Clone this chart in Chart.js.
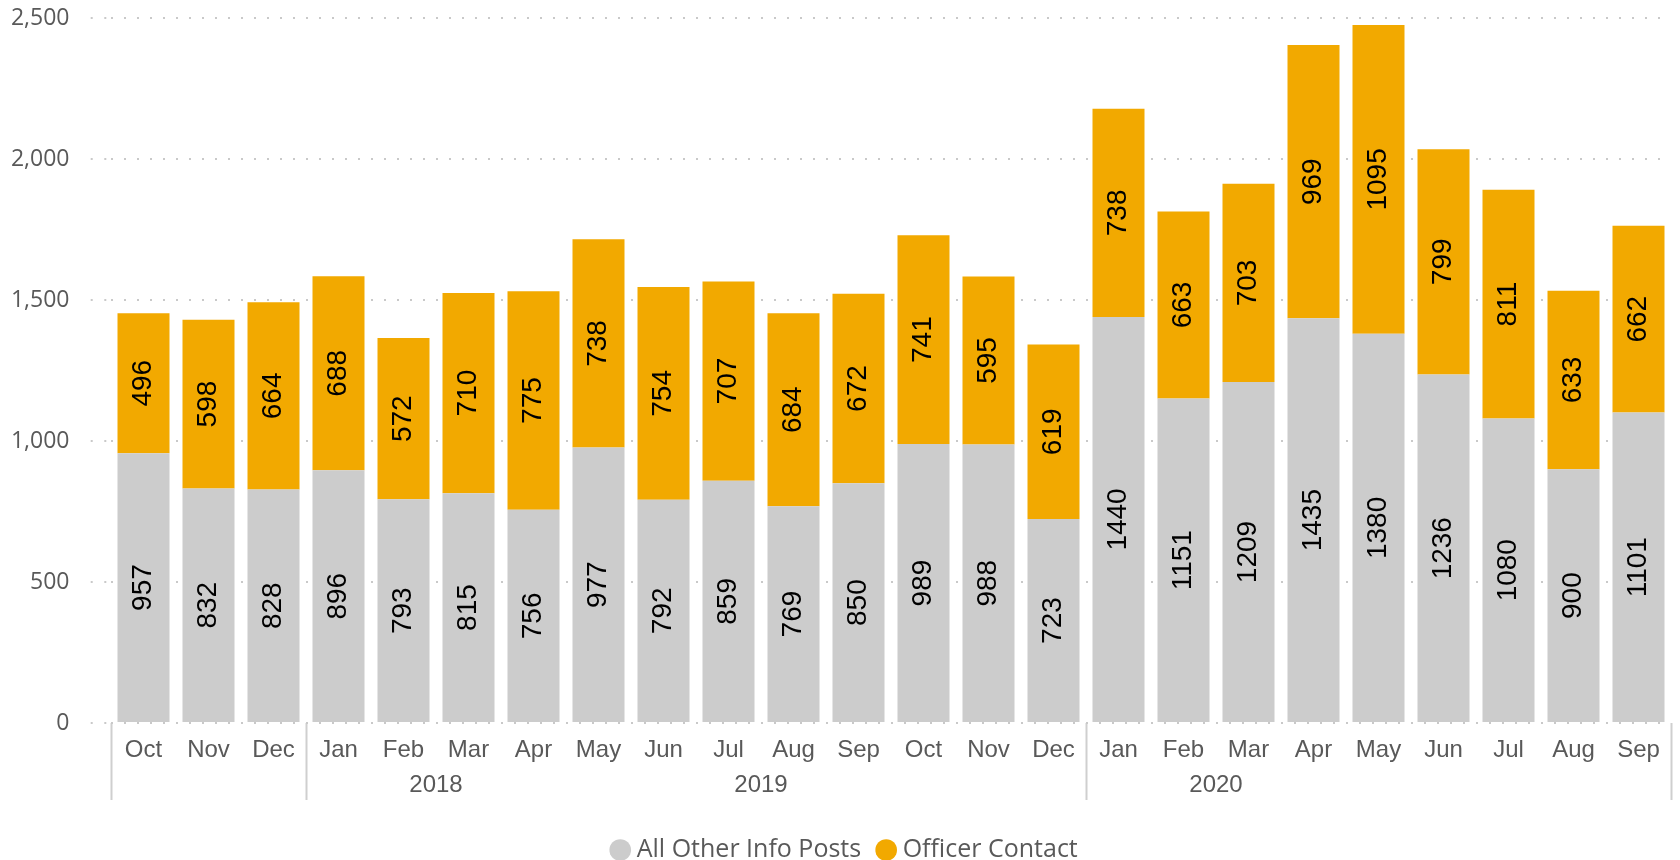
<!DOCTYPE html>
<html>
<head>
<meta charset="utf-8">
<script src="https://cdn.jsdelivr.net/npm/chart.js@4/dist/chart.umd.min.js"></script>
<style>
html,body{margin:0;padding:0;background:#ffffff;}
#wrap{width:1680px;height:860px;position:relative;}
</style>
</head>
<body>
<div id="wrap"><canvas id="c"></canvas></div>
<script>
// ---- data ----
const months = ['Oct','Nov','Dec','Jan','Feb','Mar','Apr','May','Jun','Jul','Aug','Sep','Oct','Nov','Dec','Jan','Feb','Mar','Apr','May','Jun','Jul','Aug','Sep'];
const years  = ['2018','2018','2018','2019','2019','2019','2019','2019','2019','2019','2019','2019','2019','2019','2019','2020','2020','2020','2020','2020','2020','2020','2020','2020'];
const otherInfoPosts = [957,832,828,896,793,815,756,977,792,859,769,850,989,988,723,1440,1151,1209,1435,1380,1236,1080,900,1101];
const officerContact = [496,598,664,688,572,710,775,738,754,707,684,672,741,595,619,738,663,703,969,1095,799,811,633,662];
const seriesNames = ['All Other Info Posts','Officer Contact'];
const yTickValues = [0,500,1000,1500,2000,2500];

// year groups derived from the years list
const yearNames = [];
const yearCenters = [];
(function(){
  let start = 0;
  for (let i = 1; i <= years.length; i++) {
    if (i === years.length || years[i] !== years[i-1]) {
      yearNames.push(years[start]);
      yearCenters.push((start + i - 1) / 2);
      start = i;
    }
  }
})();

const textColor = '#595959';
const gridColor = '#c9c9c9';
const dividerColor = '#cfcfcf';
const dotDash = [2, 11];

const barLabels = {
  id: 'barLabels',
  afterLayout(chart) {
    // let the y tick labels use the full left margin (no clipping at the layout padding)
    chart.scales.y.left = 0;
  },
  afterDatasetsDraw(chart) {
    const ctx = chart.ctx;
    chart.data.datasets.forEach((ds, di) => {
      const meta = chart.getDatasetMeta(di);
      meta.data.forEach((bar, i) => {
        const p = bar.getProps(['x', 'y', 'base'], true);
        ctx.save();
        ctx.translate(p.x, (p.y + p.base) / 2);
        ctx.rotate(-Math.PI / 2);
        ctx.font = '28px "Liberation Sans", Arial, sans-serif';
        ctx.fillStyle = '#000000';
        ctx.textAlign = 'center';
        ctx.textBaseline = 'middle';
        ctx.fillText(String(ds.data[i]), 0, 0);
        ctx.restore();
      });
    });
  }
};

new Chart(document.getElementById('c'), {
  type: 'bar',
  data: {
    labels: months,
    datasets: [
      { label: seriesNames[0], data: otherInfoPosts, backgroundColor: '#cccccc', borderWidth: 0, barPercentage: 0.8, categoryPercentage: 1.0, pointStyle: 'circle' },
      { label: seriesNames[1], data: officerContact, backgroundColor: '#f2a900', borderWidth: 0, barPercentage: 0.8, categoryPercentage: 1.0, pointStyle: 'circle' }
    ]
  },
  options: {
    responsive: true,
    maintainAspectRatio: false,
    animation: false,
    devicePixelRatio: 1,
    layout: { padding: { left: 23, right: 9, top: 18, bottom: -12.5 } },
    plugins: {
      tooltip: { enabled: false },
      legend: {
        position: 'bottom',
        align: 'center',
        labels: {
          usePointStyle: true,
          pointStyle: 'circle',
          boxWidth: 8,
          boxHeight: 15.3,
          padding: 21,
          color: textColor,
          font: { family: '"Open Sans", "Noto Sans", sans-serif', size: 25 }
        }
      }
    },
    scales: {
      x: {
        type: 'category',
        position: 'bottom',
        stacked: true,
        offset: true,
        weight: 0,
        border: { display: false },
        afterFit: (s) => { s.height = 41.8; },
        grid: {
          display: true,
          offset: true,
          drawOnChartArea: false,
          drawTicks: true,
          tickLength: 77,
          tickWidth: 2,
          color: 'rgba(0,0,0,0)',
          tickColor: (c) => {
            if (c.type !== 'tick') return dividerColor;
            const i = c.index;
            return (i === 0 || years[i] !== years[i - 1]) ? dividerColor : 'rgba(0,0,0,0)';
          }
        },
        ticks: {
          autoSkip: false,
          maxRotation: 0,
          padding: -64,
          color: textColor,
          font: { family: '"Liberation Sans", Arial, sans-serif', size: 24 }
        }
      },
      x2: {
        type: 'linear',
        position: 'bottom',
        weight: 1,
        min: -0.5,
        max: months.length - 0.5,
        grid: { display: false, drawTicks: false, tickLength: 0 },
        border: { display: false },
        afterBuildTicks: (s) => { s.ticks = yearCenters.map(v => ({ value: v })); },
        afterFit: (s) => { s.height = 51.7; },
        ticks: {
          autoSkip: false,
          maxRotation: 0,
          padding: 6.5,
          color: textColor,
          font: { family: '"Liberation Sans", Arial, sans-serif', size: 24 },
          callback: (v, i) => yearNames[i]
        }
      },
      y: {
        type: 'linear',
        stacked: true,
        min: yTickValues[0],
        max: yTickValues[yTickValues.length - 1],
        afterBuildTicks: (s) => { s.ticks = yTickValues.map(v => ({ value: v })); },
        afterFit: (s) => { s.width = 88; },
        border: { display: false, dash: dotDash },
        grid: {
          color: gridColor,
          lineWidth: 2,
          tickLength: 37.5,
          tickWidth: 2,
          tickColor: gridColor,
          tickBorderDash: [0, 17.2, 2, 11.6, 2, 100]
        },
        ticks: {
          padding: 4,
          color: textColor,
          font: { family: '"Open Sans", "Noto Sans", sans-serif', size: 23 }
        }
      }
    }
  },
  plugins: [barLabels]
});
</script>
</body>
</html>
